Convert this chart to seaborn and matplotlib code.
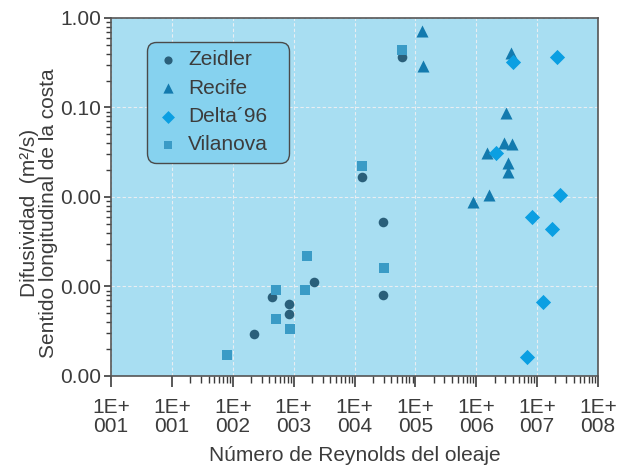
import numpy as np
import pandas as pd
import matplotlib
matplotlib.use("Agg")
import matplotlib.pyplot as plt
import matplotlib.ticker as mticker
import seaborn as sns

# ---- data ----
zeidler_x = [224, 444, 847, 847, 2185, 13490, 29930, 29930, 59270]
zeidler_y = [2.94e-4, 7.63e-4, 6.37e-4, 4.93e-4, 1.12e-3, 0.0167, 5.26e-3, 8.04e-4, 0.367]

recife_x = [126500, 131400, 3.70e6, 3.06e6, 2.84e6, 3.84e6, 1.49e6, 3.30e6, 3.30e6, 1.61e6, 8.76e5]
recife_y = [0.716, 0.291, 0.406, 0.0868, 0.0401, 0.0391, 0.0310, 0.0240, 0.0190, 0.0105, 8.79e-3]

delta_x = [3.99e6, 2.12e7, 2.10e6, 2.38e7, 8.21e6, 1.75e7, 1.25e7, 6.79e6]
delta_y = [0.322, 0.367, 0.0310, 0.0105, 5.98e-3, 4.39e-3, 6.71e-4, 1.63e-4]

vilanova_x = [80.5, 517, 517, 879, 1553, 1675, 59270, 13490, 31100]
vilanova_y = [1.72e-4, 9.14e-4, 4.34e-4, 3.35e-4, 9.14e-4, 2.19e-3, 0.439, 0.0222, 1.61e-3]

series_names = ["Zeidler", "Recife", "Delta\u00b496", "Vilanova"]

x_tick_values = [1e0, 1e1, 1e2, 1e3, 1e4, 1e5, 1e6, 1e7, 1e8]
x_tick_labels = ["1E+\n001", "1E+\n001", "1E+\n002", "1E+\n003", "1E+\n004",
                 "1E+\n005", "1E+\n006", "1E+\n007", "1E+\n008"]
y_tick_values = [1e-4, 1e-3, 1e-2, 1e-1, 1e0]
y_tick_labels = ["0.00", "0.00", "0.00", "0.10", "1.00"]

# ---- build table ----
frames = []
for name, xs, ys in zip(series_names,
                        [zeidler_x, recife_x, delta_x, vilanova_x],
                        [zeidler_y, recife_y, delta_y, vilanova_y]):
    frames.append(pd.DataFrame({"Re": xs, "D": ys, "serie": name}))
df = pd.concat(frames, ignore_index=True)

sns.set_theme(style="white")
plt.rcParams["font.family"] = ["Liberation Sans", "DejaVu Sans"]
text_color = "#3c3c3c"
plt.rcParams["text.color"] = text_color
plt.rcParams["axes.labelcolor"] = text_color
plt.rcParams["xtick.color"] = text_color
plt.rcParams["ytick.color"] = text_color

palette = {"Zeidler": "#2a5f7a", "Recife": "#137aae",
           "Delta\u00b496": "#0b9fe2", "Vilanova": "#3a9bc6"}
markers = {"Zeidler": "o", "Recife": "^", "Delta\u00b496": "D", "Vilanova": "s"}
sizes = {"Zeidler": 48, "Recife": 75, "Delta\u00b496": 60, "Vilanova": 55}

fig = plt.figure(figsize=(6.29, 4.67), dpi=100)
ax = fig.add_axes([0.1765, 0.1949, 0.7742, 0.7666])
ax.set_facecolor("#a8def2")

for name in series_names:
    sub = df[df["serie"] == name]
    sns.scatterplot(data=sub, x="Re", y="D", ax=ax, color=palette[name],
                    marker=markers[name], s=sizes[name], linewidth=0,
                    label=name, zorder=3)

ax.set_xscale("log")
ax.set_yscale("log")
ax.set_xlim(1e0, 1e8)
ax.set_ylim(1e-4, 1e0)

ax.xaxis.set_major_locator(mticker.FixedLocator(x_tick_values))
ax.xaxis.set_major_formatter(mticker.FixedFormatter(x_tick_labels))
minor_x = [m * 10.0 ** d for d in range(1, 8) for m in range(2, 10)]
ax.xaxis.set_minor_locator(mticker.FixedLocator(minor_x))
ax.xaxis.set_minor_formatter(mticker.NullFormatter())

ax.yaxis.set_major_locator(mticker.FixedLocator(y_tick_values))
ax.yaxis.set_major_formatter(mticker.FixedFormatter(y_tick_labels))
minor_y = [m * 10.0 ** d for d in range(-4, 0) for m in range(2, 10)]
ax.yaxis.set_minor_locator(mticker.FixedLocator(minor_y))
ax.yaxis.set_minor_formatter(mticker.NullFormatter())

ax.tick_params(axis="x", which="major", direction="out", length=8, width=1.2,
               labelsize=15, pad=8, bottom=True)
ax.tick_params(axis="x", which="minor", direction="out", length=5, width=1,
               bottom=True)
ax.tick_params(axis="y", which="major", direction="out", length=5, width=1.2,
               labelsize=15, pad=2, left=True)
ax.tick_params(axis="y", which="minor", direction="out", length=3.5, width=1,
               left=True)
for lab in ax.get_xticklabels():
    lab.set_linespacing(1.0)

ax.grid(True, which="major", color="#e8eef2", linestyle=(0, (3, 2)), linewidth=0.8)
ax.set_axisbelow(True)

for side, sp in ax.spines.items():
    sp.set_visible(True)
    sp.set_color("#555555")
    sp.set_linewidth(1.2)

ax.set_xlabel("Número de Reynolds del oleaje", fontsize=15, labelpad=7)
ax.set_ylabel("Difusividad  (m\u00b2/s)\nSentido longitudinal de la costa",
              fontsize=15, linespacing=1.0)
ax.yaxis.set_label_coords(-0.108, 0.455)

handles, labels = ax.get_legend_handles_labels()
leg = ax.legend(handles, labels, loc="upper left",
                bbox_to_anchor=(0.0739, 0.595, 0.2916, 0.338), mode="expand",
                borderaxespad=0, frameon=True, fancybox=True, fontsize=15,
                labelspacing=0.45, handlelength=1.22, handletextpad=0.35,
                borderpad=0.4, markerscale=0.85)
frame = leg.get_frame()
frame.set_facecolor("#86d2ef")
frame.set_edgecolor("#4a4a4a")
frame.set_linewidth(1.0)
frame.set_alpha(1.0)
frame.set_boxstyle("round", pad=0, rounding_size=0.45)
for t in leg.get_texts():
    t.set_color(text_color)

fig.savefig("out.png", dpi=100, facecolor="white")
